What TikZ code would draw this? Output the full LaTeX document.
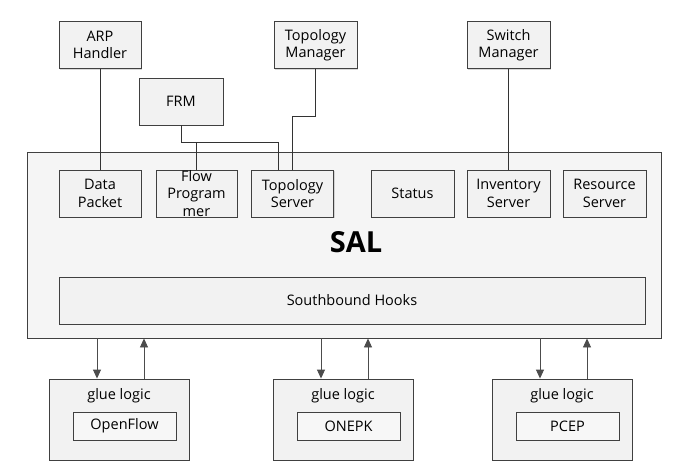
\documentclass[tikz,border=0pt]{standalone}
\usepackage{fontspec}
\setmainfont{Open Sans}
\usetikzlibrary{arrows.meta,shadows}

\tikzset{
	box/.style={draw=black!75, line width=0.9pt, fill=black!5, align=center,
		font=\fontsize{14.5}{17.5}\selectfont, minimum width=82pt, minimum height=47pt,
		inner sep=2pt, drop shadow={shadow xshift=1.2pt, shadow yshift=-1.2pt, fill=black!30, opacity=0.5}},
	salbox/.style={draw=black!75, line width=0.9pt, fill=black!4, minimum width=634pt, minimum height=186pt},
	gluebox/.style={box, minimum width=140pt, minimum height=81pt},
	proto/.style={box, fill=black!3, minimum width=103pt, minimum height=28pt, drop shadow={opacity=0}},
	link/.style={draw=black!80, line width=0.8pt},
	flowto/.style={draw=black!70, line width=0.9pt, -{Triangle[width=8pt,length=9pt]}}
}

\begin{document}
\begin{tikzpicture}[x=1pt, y=-1pt]
			%%%%% START %%%%%
			\useasboundingbox[fill=white] (0,0) rectangle (675,473);
			
			% controller box
			\node[salbox] (sal) at (344, 245) {};
			\node[font=\fontsize{29}{30}\selectfont\bfseries] (saltitle) at (356, 242) {SAL};
			
			% applications on top
			\node[box] (arp) at (100, 45) {ARP\\Handler};
			\node[box, minimum width=83pt] (topomgr) at (315.5, 45) {Topology\\Manager};
			\node[box, minimum width=83pt] (switchmgr) at (508.5, 45) {Switch\\Manager};
			\node[box, minimum width=84pt] (frm) at (181, 101.5) {FRM};
			
			% services inside SAL
			\node[box] (data) at (100, 193.5) {Data\\Packet};
			\node[box, minimum width=81pt, inner ysep=-4pt] (flow) at (196.5, 193.5) {Flow\\Program\\mer};
			\node[box] (toposrv) at (292.5, 193.5) {Topology\\Server};
			\node[box, minimum width=83pt] (status) at (412.5, 193.5) {Status};
			\node[box, minimum width=83pt] (inv) at (508.5, 193.5) {Inventory\\Server};
			\node[box, minimum width=83pt] (res) at (604.5, 193.5) {Resource\\Server};
			
			\node[box, minimum width=586pt] (hooks) at (352, 300.5) {Southbound Hooks};
			
			% plugins below
			\foreach \name/\cx/\proto in {glueof/119/OpenFlow, gluepk/343/ONEPK, gluepc/562/PCEP}{
				\node[gluebox] (\name) at (\cx, 419.5) {};
				\node[font=\fontsize{14.5}{17.5}\selectfont] (\name-title) at (\cx, 396) {glue logic};
				\node[proto] (\name-proto) at (\cx+5.5, 426) {\proto};
				\draw[flowto] ([xshift=-22pt]\name.north |- sal.south) -- ([xshift=-22pt]\name.north);
				\draw[flowto] ([xshift=25pt]\name.north) -- ([xshift=25pt]\name.north |- sal.south);
			}
			
			% wiring
			\draw[link] (arp.south) -- (data.north);
			\draw[link] (switchmgr.south) -- (inv.north);
			\draw[link] (topomgr.south) -- ++(0,47) -| (toposrv.north);
			\draw[link] (frm.south) -- ++(0,17) coordinate (frmbus) -| ([xshift=-14pt]toposrv.north);
			\draw[link] (frmbus -| flow.north) -- (flow.north);
			
			%%%%% END %%%%%
		\end{tikzpicture}
\end{document}
